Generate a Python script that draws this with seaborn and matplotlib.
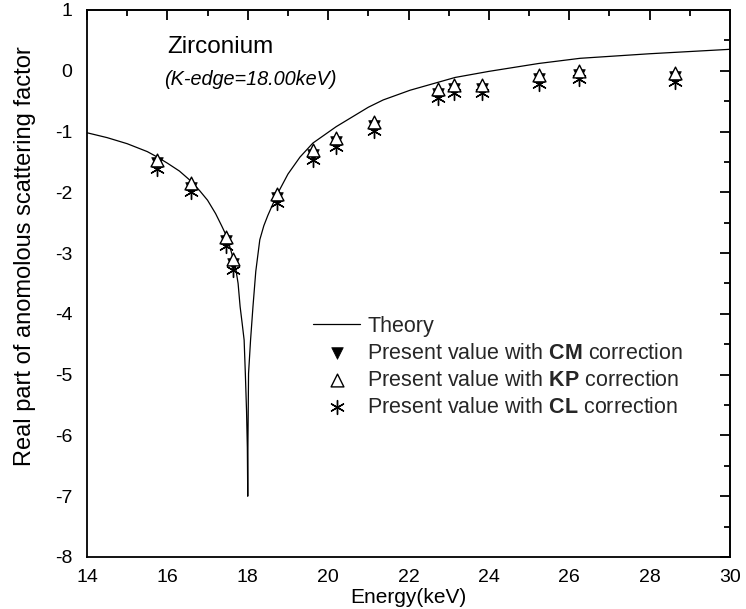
import matplotlib
matplotlib.use("Agg")
import matplotlib.pyplot as plt
import seaborn as sns
import pandas as pd
from matplotlib.ticker import MultipleLocator

# ---- data ----
theory_E = [14.0, 14.5, 15.0, 15.5, 15.75, 16.0, 16.3, 16.56, 16.8, 17.0, 17.2, 17.35,
            17.48, 17.6, 17.7, 17.76, 17.81, 17.86, 17.91, 17.94, 17.97, 17.99, 18.0,
            18.005, 18.02, 18.07, 18.13, 18.2, 18.3, 18.4, 18.5, 18.72, 19.0, 19.3,
            19.62, 20.2, 21.0, 21.37, 22.04, 23.16, 24.0, 25.24, 26.27, 28.0, 30.0]
theory_f = [-1.02, -1.1, -1.2, -1.33, -1.42, -1.52, -1.65, -1.80, -1.97, -2.13, -2.35, -2.55,
            -2.73, -3.0, -3.25, -3.5, -3.88, -4.15, -4.43, -4.98, -5.6, -6.2, -7.0,
            -6.1, -4.98, -4.43, -3.88, -3.3, -2.78, -2.55, -2.38, -2.05, -1.70, -1.42,
            -1.19, -0.92, -0.60, -0.48, -0.32, -0.11, -0.01, 0.12, 0.205, 0.28, 0.353]

energy = [15.75, 16.58, 17.45, 17.64, 18.72, 19.62, 20.2, 21.15, 22.74, 23.14,
          23.84, 25.24, 26.23, 28.63]
cm_vals = [-1.52, -1.93, -2.80, -3.18, -2.10, -1.38, -1.18, -0.91, -0.38, -0.30,
           -0.30, -0.14, -0.07, -0.11]
kp_vals = [-1.46, -1.85, -2.73, -3.10, -2.03, -1.30, -1.11, -0.84, -0.305, -0.234,
           -0.234, -0.07, 0.0, -0.04]
cl_vals = [-1.62, -2.00, -2.88, -3.27, -2.18, -1.46, -1.26, -0.99, -0.45, -0.37,
           -0.37, -0.21, -0.14, -0.18]

x_ticks = [14, 16, 18, 20, 22, 24, 26, 28, 30]
y_ticks = [1, 0, -1, -2, -3, -4, -5, -6, -7, -8]

# ---- style ----
sns.set_theme(style="white")
plt.rcParams['font.family'] = ['Liberation Sans', 'DejaVu Sans']
plt.rcParams['mathtext.fontset'] = 'custom'
plt.rcParams['mathtext.rm'] = 'Liberation Sans'
plt.rcParams['mathtext.bf'] = 'Liberation Sans:bold'
plt.rcParams['mathtext.it'] = 'Liberation Sans:italic'

fig = plt.figure(figsize=(7.46, 6.09), dpi=100)
ax = fig.add_axes([0.1166, 0.0854, 0.8620, 0.8982])

th = pd.DataFrame({"E": theory_E, "f": theory_f})
sns.lineplot(data=th, x="E", y="f", ax=ax, color="black", linewidth=0.9,
             sort=False, estimator=None, label="Theory")

pts = pd.DataFrame({"E": energy, "CM": cm_vals, "KP": kp_vals, "CL": cl_vals})
sns.scatterplot(data=pts, x="E", y="CL", ax=ax, marker=(6, 2, 0), s=100,
                color="black", linewidth=1.0,
                label=r"Present value with $\mathbf{CL}$ correction", zorder=3)
sns.scatterplot(data=pts, x="E", y="CM", ax=ax, marker="v", s=70,
                color="black", edgecolor="black", linewidth=0.5,
                label=r"Present value with $\mathbf{CM}$ correction", zorder=4)
sns.scatterplot(data=pts, x="E", y="KP", ax=ax, marker="^", s=85,
                facecolor="white", edgecolor="black", linewidth=1.0,
                label=r"Present value with $\mathbf{KP}$ correction", zorder=5)

ax.set_xlim(14, 30)
ax.set_ylim(-8, 1)
ax.set_xticks(x_ticks)
ax.set_yticks(y_ticks)
ax.set_xticklabels([str(t) for t in x_ticks])
ax.set_yticklabels([str(t) for t in y_ticks])
ax.xaxis.set_minor_locator(MultipleLocator(1))
ax.yaxis.set_minor_locator(MultipleLocator(0.5))
ax.tick_params(which='both', direction='out', top=False, right=False,
               color='black', width=1.3, labelsize=14, labelcolor='black')
ax.tick_params(axis='x', which='major', pad=2)
ax.tick_params(which='major', length=7)
ax.tick_params(which='minor', length=4)
for s in ax.spines.values():
    s.set_linewidth(1.3)
    s.set_color('black')

secx = ax.secondary_xaxis('top')
secx.set_xticks(x_ticks)
secx.xaxis.set_minor_locator(MultipleLocator(1))
secx.tick_params(which='both', direction='in', labeltop=False, width=1.3, color='black')
secx.tick_params(which='major', length=7)
secx.tick_params(which='minor', length=4)
secy = ax.secondary_yaxis('right')
secy.set_yticks(y_ticks)
secy.yaxis.set_minor_locator(MultipleLocator(0.5))
secy.tick_params(which='both', direction='in', labelright=False, width=1.3, color='black')
secy.tick_params(which='major', length=7)
secy.tick_params(which='minor', length=4)

ax.set_xlabel("Energy(keV)", fontsize=15, color='black', labelpad=1)
ax.set_ylabel("Real part of anomolous scattering factor", fontsize=17, color='black')
ax.yaxis.set_label_coords(-0.079, 0.55)

ax.text(17.33, 0.39, "Zirconium", fontsize=17.5, ha='center', va='center', color='black')
ax.text(18.06, -0.15, "(K-edge=18.00keV)", fontsize=14.3, style='italic',
        ha='center', va='center', color='black')

h, l = ax.get_legend_handles_labels()
order = [0, 2, 3, 1]
ax.legend([h[i] for i in order], [l[i] for i in order], loc='upper left',
          bbox_to_anchor=(0.3515, 0.441), frameon=False, fontsize=15.5,
          handlelength=2.2, labelspacing=0.28, handletextpad=0.33,
          borderpad=0, borderaxespad=0)

fig.savefig("out.png", dpi=100)
